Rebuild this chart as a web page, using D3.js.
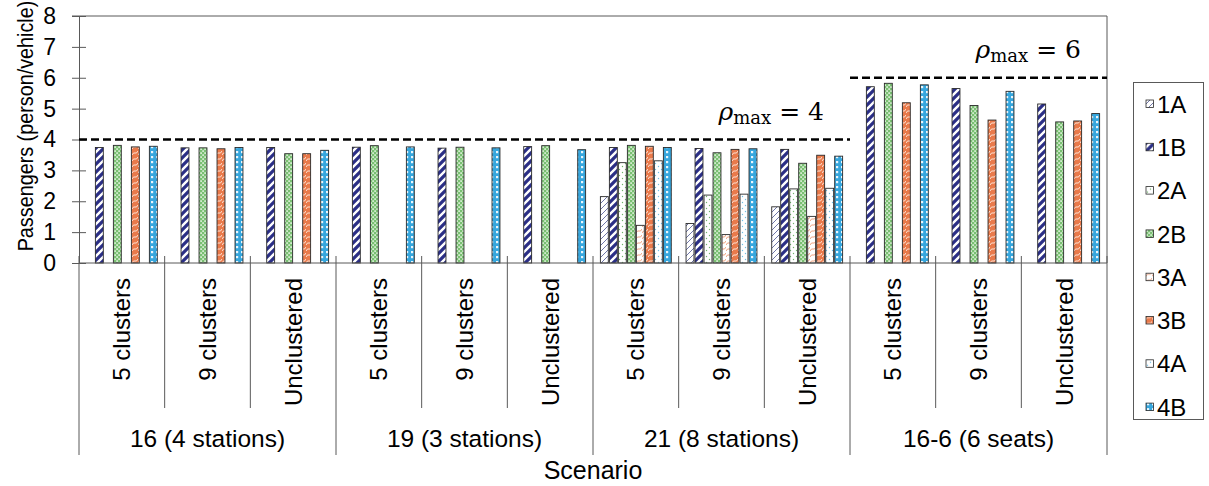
<!DOCTYPE html>
<html>
<head>
<meta charset="utf-8">
<script src="https://cdn.jsdelivr.net/npm/d3@7"></script>
<style>
  html, body { margin: 0; padding: 0; background: #fff; }
  svg { display: block; font-family: "Liberation Sans", Arial, sans-serif; }
</style>
</head>
<body>
<svg id="chart" width="1209" height="486"></svg>
<script>
// Scenario groups and the clustering variants shown in each group
const groups = ["16 (4 stations)", "19 (3 stations)", "21 (8 stations)", "16-6 (6 seats)"];
const clusters = ["5 clusters", "9 clusters", "Unclustered"];
const seriesNames = ["1A", "1B", "2A", "2B", "3A", "3B", "4A", "4B"];

// Average passengers per vehicle, one entry per (group, cluster) column; null = no bar
const s1A = [null, null, null, null, null, null, 2.15, 1.28, 1.82, null, null, null];
const s1B = [3.74, 3.73, 3.74, 3.75, 3.72, 3.77, 3.74, 3.71, 3.68, 5.71, 5.65, 5.15];
const s2A = [null, null, null, null, null, null, 3.25, 2.20, 2.40, null, null, null];
const s2B = [3.81, 3.73, 3.54, 3.80, 3.75, 3.80, 3.81, 3.57, 3.23, 5.82, 5.10, 4.57];
const s3A = [null, null, null, null, null, null, 1.22, 0.92, 1.51, null, null, null];
const s3B = [3.76, 3.70, 3.54, null, null, null, 3.78, 3.68, 3.49, 5.19, 4.63, 4.60];
const s4A = [null, null, null, null, null, null, 3.31, 2.23, 2.42, null, null, null];
const s4B = [3.78, 3.74, 3.65, 3.76, 3.73, 3.67, 3.74, 3.70, 3.46, 5.77, 5.56, 4.84];
const seriesValues = [s1A, s1B, s2A, s2B, s3A, s3B, s4A, s4B];

// Vehicle capacity limits, each spanning a range of groups
const capacityValues = [4, 6];
const capacityFirstGroup = [0, 3];
const capacityLastGroup = [2, 3];

const yTicks = [0, 1, 2, 3, 4, 5, 6, 7, 8];

const svg = d3.select("#chart");
const plot = { left: 79, right: 1107, top: 16, bottom: 263 };
const axisColor = "#595959";

// ---- fill patterns for each series ----
const defs = svg.append("defs");
function pat(id, w, h, bg) {
  const p = defs.append("pattern").attr("id", id).attr("patternUnits", "userSpaceOnUse")
    .attr("width", w).attr("height", h);
  p.append("rect").attr("width", w).attr("height", h).attr("fill", bg);
  return p;
}
// 1A: light diagonal hatch
pat("p1A", 6, 6, "#fff").append("path").attr("d", "M-1,1 L1,-1 M0,6 L6,0 M5,7 L7,5")
  .attr("stroke", "#6f76a8").attr("stroke-width", 1);
// 1B: navy with wide white diagonals
pat("p1B", 8, 8, "#2b2f86").append("path").attr("d", "M-1,1 L1,-1 M0,8 L8,0 M7,9 L9,7")
  .attr("stroke", "#fff").attr("stroke-width", 2.4);
// 2A: sparse green dots
{
  const p = pat("p2A", 6, 6, "#fff");
  p.append("circle").attr("cx", 1.5).attr("cy", 1.5).attr("r", 0.7).attr("fill", "#6fb46a");
  p.append("circle").attr("cx", 4.5).attr("cy", 4.5).attr("r", 0.7).attr("fill", "#6fb46a");
}
// 2B: green with white checker dots
{
  const p = pat("p2B", 4, 4, "#79bf72");
  p.append("rect").attr("x", 0.3).attr("y", 0.3).attr("width", 1.6).attr("height", 1.6).attr("fill", "#e8f5e3");
  p.append("rect").attr("x", 2.3).attr("y", 2.3).attr("width", 1.6).attr("height", 1.6).attr("fill", "#e8f5e3");
}
// 3A: light orange waves
pat("p3A", 6, 6, "#fff").append("path").attr("d", "M0,5 Q1.5,2 3,3 T6,1")
  .attr("fill", "none").attr("stroke", "#f0a27e").attr("stroke-width", 1);
// 3B: orange with white waves
pat("p3B", 6, 6, "#e97a4b").append("path").attr("d", "M0,5 Q1.5,2 3,3 T6,1")
  .attr("fill", "none").attr("stroke", "#fde3d6").attr("stroke-width", 1);
// 4A: light blue dots
{
  const p = pat("p4A", 6, 6, "#fff");
  p.append("circle").attr("cx", 1.5).attr("cy", 1.5).attr("r", 0.7).attr("fill", "#6fbfe6");
  p.append("circle").attr("cx", 4.5).attr("cy", 4.5).attr("r", 0.7).attr("fill", "#6fbfe6");
}
// 4B: blue with white squares
pat("p4B", 5, 5, "#36a6dd").append("rect").attr("x", 1).attr("y", 1)
  .attr("width", 2.2).attr("height", 2.2).attr("fill", "#eaf6fc");

// ---- scales ----
const columns = [];
groups.forEach((g, gi) => clusters.forEach((c, ci) => columns.push({ id: gi * 3 + ci, group: g, gi, cluster: c })));

const x0 = d3.scaleBand().domain(columns.map(d => d.id)).range([plot.left, plot.right]).paddingInner(0).paddingOuter(0);
const x1 = d3.scaleBand().domain(seriesNames).range([0, x0.bandwidth()]).paddingInner(0.12).paddingOuter(0.82);
const y = d3.scaleLinear().domain([0, 8]).range([plot.bottom, plot.top]);

// ---- plot frame ----
svg.append("line").attr("x1", plot.left - 7).attr("x2", plot.right).attr("y1", plot.top).attr("y2", plot.top)
  .attr("stroke", axisColor).attr("stroke-width", 1);
svg.append("line").attr("x1", plot.right).attr("x2", plot.right).attr("y1", plot.top).attr("y2", plot.bottom)
  .attr("stroke", axisColor).attr("stroke-width", 1);

// ---- y axis ----
const yAxis = svg.append("g").attr("transform", `translate(${plot.left},0)`)
  .call(d3.axisLeft(y).tickValues(yTicks).tickSize(7).tickPadding(16).tickFormat(d3.format("d")));
yAxis.select(".domain").attr("stroke", axisColor);
yAxis.selectAll(".tick line").attr("x1", 7).attr("x2", -7).attr("stroke", axisColor);
yAxis.selectAll(".tick text").attr("font-size", 23).attr("fill", "#000")
  .attr("font-family", "'Liberation Sans', Arial, sans-serif");

svg.append("text").attr("transform", `translate(33,126) rotate(-90) scale(0.9,1)`)
  .attr("text-anchor", "middle").attr("font-size", 22).attr("fill", "#000")
  .text("Passengers (person/vehicle)");

// ---- bars ----
const barData = [];
seriesNames.forEach((s, si) => {
  seriesValues[si].forEach((v, ci) => {
    if (v !== null) barData.push({ series: s, col: ci, value: v });
  });
});
svg.append("g").selectAll("rect").data(barData).join("rect")
  .attr("x", d => x0(d.col) + x1(d.series))
  .attr("y", d => y(d.value))
  .attr("width", x1.bandwidth())
  .attr("height", d => y(0) - y(d.value))
  .attr("fill", d => `url(#p${d.series})`)
  .attr("stroke", "#2a2a2a").attr("stroke-width", 0.9);

// ---- x axis baseline, separators and labels ----
svg.append("line").attr("x1", plot.left).attr("x2", plot.right).attr("y1", plot.bottom).attr("y2", plot.bottom)
  .attr("stroke", axisColor);

const boundaries = d3.range(columns.length + 1);
svg.append("g").selectAll("line").data(boundaries).join("line")
  .attr("x1", i => i === columns.length ? plot.right : x0(i))
  .attr("x2", i => i === columns.length ? plot.right : x0(i))
  .attr("y1", plot.bottom - 7)
  .attr("y2", i => (i % 3 === 0) ? 455 : 408)
  .attr("stroke", axisColor);

svg.append("g").selectAll("text").data(columns).join("text")
  .attr("transform", d => `translate(${x0(d.id) + x0.bandwidth() / 2},278) rotate(-90)`)
  .attr("text-anchor", "end").attr("dy", "0.36em")
  .attr("font-size", 24).attr("fill", "#000")
  .text(d => d.cluster);

svg.append("g").selectAll("text").data(groups).join("text")
  .attr("x", (g, gi) => (x0(gi * 3) + x0(gi * 3 + 2) + x0.bandwidth()) / 2)
  .attr("y", 447)
  .attr("text-anchor", "middle").attr("font-size", 24.5).attr("fill", "#000")
  .text(g => g);

svg.append("text").attr("x", (plot.left + plot.right) / 2).attr("y", 479)
  .attr("text-anchor", "middle").attr("font-size", 25).attr("fill", "#000").text("Scenario");

// ---- capacity lines and labels ----
capacityValues.forEach((v, i) => {
  const xa = x0(capacityFirstGroup[i] * 3);
  const xb = capacityLastGroup[i] === groups.length - 1 ? plot.right : x0(capacityLastGroup[i] * 3 + 3);
  svg.append("line").attr("x1", xa).attr("x2", xb).attr("y1", y(v)).attr("y2", y(v))
    .attr("stroke", "#000").attr("stroke-width", 2.6).attr("stroke-dasharray", "8,4");
  const t = svg.append("text").attr("x", xb - 26).attr("y", y(v) - 20)
    .attr("text-anchor", "end").attr("font-family", "'DejaVu Serif', 'Liberation Serif', serif")
    .attr("font-size", 25).attr("fill", "#000");
  t.append("tspan").attr("font-style", "italic").text("ρ");
  t.append("tspan").attr("font-size", 18).attr("dy", 4).text("max");
  t.append("tspan").attr("dy", -4).text(" = " + v);
});

// ---- legend ----
const legend = svg.append("g");
legend.append("rect").attr("x", 1133.5).attr("y", 82.5).attr("width", 70).attr("height", 337)
  .attr("fill", "#fff").attr("stroke", axisColor);
const items = legend.selectAll("g.item").data(seriesNames).join("g")
  .attr("transform", (d, i) => `translate(1146,${104 + i * 43.3})`);
items.append("rect").attr("x", 0).attr("y", -4).attr("width", 7.5).attr("height", 7.5)
  .attr("fill", d => `url(#p${d})`).attr("stroke", "#2a2a2a").attr("stroke-width", 0.8);
items.append("text").attr("x", 11).attr("y", 0).attr("dy", "0.36em")
  .attr("font-size", 24).attr("fill", "#000").text(d => d);
</script>
</body>
</html>
